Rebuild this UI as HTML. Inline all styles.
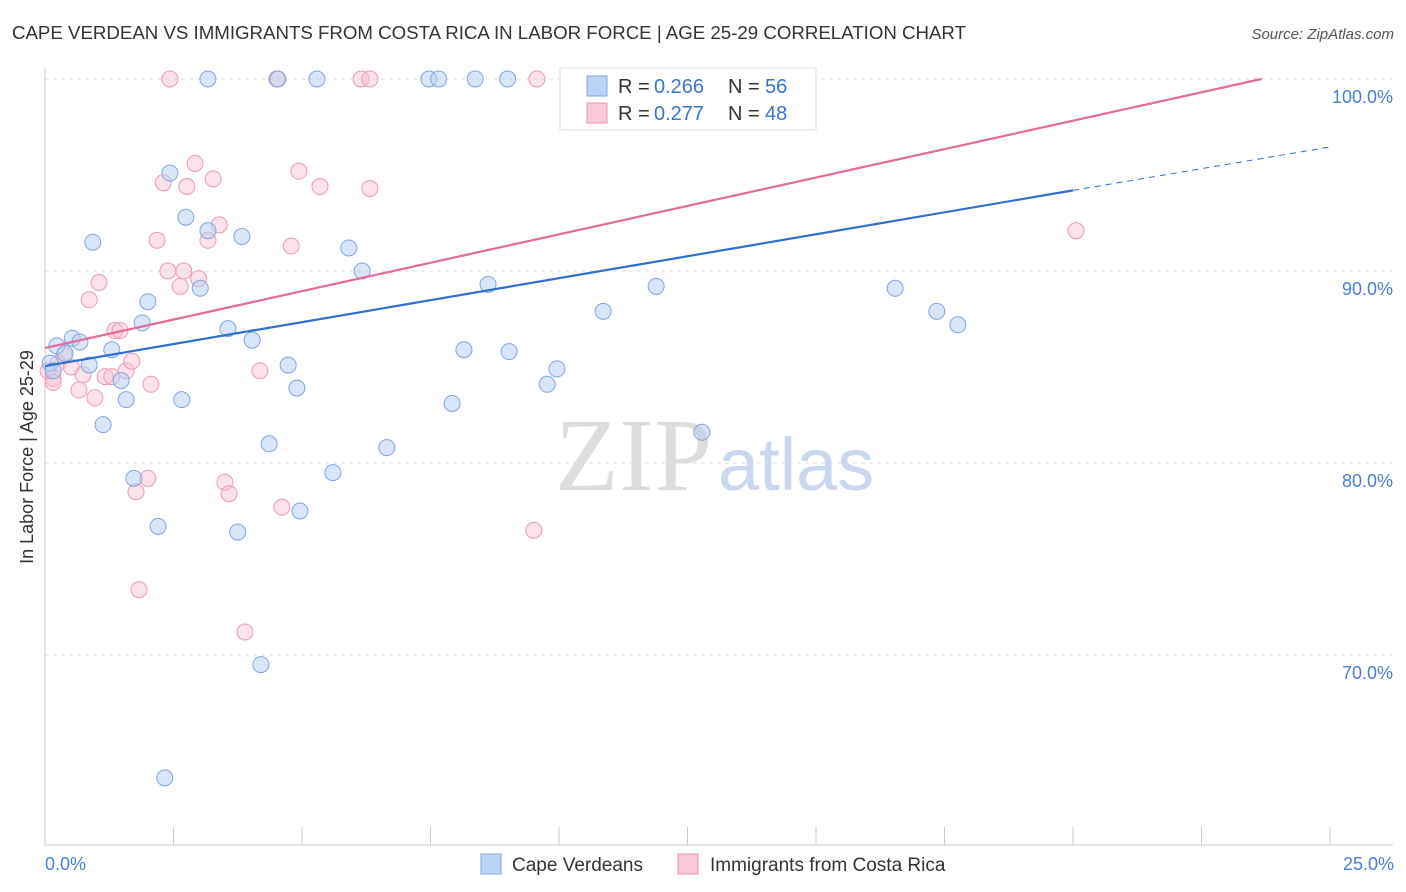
<!DOCTYPE html>
<html><head><meta charset="utf-8"><style>
body{margin:0;background:#fff;font-family:"Liberation Sans",sans-serif;}
svg{display:block}
</style></head><body>
<svg width="1406" height="892">
<text x="12" y="39" font-size="18.7" fill="#333" textLength="954">CAPE VERDEAN VS IMMIGRANTS FROM COSTA RICA IN LABOR FORCE | AGE 25-29 CORRELATION CHART</text>
<text x="1394" y="39" font-size="15" fill="#555" font-style="italic" text-anchor="end">Source: ZipAtlas.com</text>
<text x="555" y="490" font-size="104" fill="#ddd" textLength="157" font-family="Liberation Serif">ZIP</text>
<text x="718" y="490" font-size="74" fill="#c9d8ef">atlas</text>
<g id="grid"></g>
<line x1="45" y1="68" x2="45" y2="845" stroke="#ccc"/>
<line x1="45" y1="845" x2="1393" y2="845" stroke="#ccc"/>
<g id="xt"></g>
<text x="45" y="870" font-size="18" fill="#4a7fd6">0.0%</text>
<text x="1394" y="870" font-size="18" fill="#4a7fd6" text-anchor="end">25.0%</text>
<text transform="translate(33,457) rotate(-90)" font-size="18" fill="#333" text-anchor="middle">In Labor Force | Age 25-29</text>
<g id="pts"></g>
<g id="lines"></g>
<g>
<rect x="560" y="68" width="256" height="62" fill="#fff" stroke="#ddd"/>
<rect x="587" y="76" width="20" height="20" fill="#b9d2f5" stroke="#7fa6e0"/>
<text x="618" y="93" font-size="20" fill="#333">R =</text>
<text x="654" y="93" font-size="20" fill="#3a74d0">0.266</text>
<text x="728" y="93" font-size="20" fill="#333">N =</text>
<text x="765" y="93" font-size="20" fill="#3a74d0">56</text>
<rect x="587" y="103" width="20" height="20" fill="#f9c9d7" stroke="#eb95b0"/>
<text x="618" y="120" font-size="20" fill="#333">R =</text>
<text x="654" y="120" font-size="20" fill="#3a74d0">0.277</text>
<text x="728" y="120" font-size="20" fill="#333">N =</text>
<text x="765" y="120" font-size="20" fill="#3a74d0">48</text>
</g>
<g>
<rect x="481" y="854" width="20" height="20" fill="#b9d2f5" stroke="#7fa6e0"/>
<text x="512" y="871" font-size="19" fill="#333">Cape Verdeans</text>
<rect x="678" y="854" width="20" height="20" fill="#f9c9d7" stroke="#eb95b0"/>
<text x="710" y="871" font-size="19" fill="#333">Immigrants from Costa Rica</text>
</g>
</svg>
<script>
const yTicks=[100,90,80,70];
const xTicks=[0,2.5,5,7.5,10,12.5,15,17.5,20,22.5,25];
const blueX=[0.23,0.53,0.68,0.39,0.86,0.10,0.16,1.48,1.58,1.13,1.30,1.89,2.00,0.93,2.43,2.74,3.17,3.02,3.83,3.56,4.03,4.73,4.90,4.36,2.66,1.73,2.20,3.75,4.96,5.60,4.20,2.33,5.91,6.17,6.65,7.92,8.15,9.03,9.77,9.96,8.62,10.86,11.89,12.78,16.54,17.35,17.76,3.17,4.53,5.29,7.47,7.66,8.37,9.00,11.25,13.42];
const blueY=[86.1,86.5,86.3,85.7,85.1,85.2,84.8,84.3,83.3,82.0,85.9,87.3,88.4,91.5,95.1,92.8,92.1,89.1,91.8,87.0,86.4,85.1,83.9,81.0,83.3,79.2,76.7,76.4,77.5,79.5,69.5,63.6,91.2,90.0,80.8,83.1,85.9,85.8,84.1,84.9,89.3,87.9,89.2,81.6,89.1,87.9,87.2,100,100,100,100,100,100,100,100,100];
const pinkX=[2.43,4.51,6.15,6.32,9.57,2.92,2.30,2.76,3.27,4.94,5.35,6.32,3.39,3.17,2.18,4.79,2.39,2.70,2.99,2.63,1.05,0.86,1.36,1.46,0.37,0.25,0.06,0.16,0.51,0.74,1.17,1.58,1.69,1.30,0.66,0.97,2.06,4.18,3.50,3.58,2.00,1.77,4.61,1.83,3.89,9.51,20.06,0.16];
const pinkY=[100,100,100,100,100,95.6,94.6,94.4,94.8,95.2,94.4,94.3,92.4,91.6,91.6,91.3,90.0,90.0,89.6,89.2,89.4,88.5,86.9,86.9,85.6,85.2,84.8,84.4,85.0,84.6,84.5,84.8,85.3,84.5,83.8,83.4,84.1,84.8,79.0,78.4,79.2,78.5,77.7,73.4,71.2,76.5,92.1,84.2];
const blueFit=[[0,85.05],[20,94.2],[25,96.46]];
const pinkFit=[[0,85.99],[23.67,100]];
const NS='http://www.w3.org/2000/svg';
const X=v=>45+v*51.4, Y=v=>79+(100-v)*19.2;
function mk(t,a,p){const e=document.createElementNS(NS,t);for(const k in a)e.setAttribute(k,a[k]);p.appendChild(e);return e;}
const grid=document.getElementById('grid');
yTicks.forEach(t=>{
 const l=mk('line',{x1:45,x2:1393,y1:Y(t),y2:Y(t),stroke:'#ddd','stroke-dasharray':'4,4'},grid);
 
 
 const tx=mk('text',{x:1393,y:Y(t)+24,'font-size':18,fill:'#4a7fd6','text-anchor':'end'},grid);
 tx.textContent=t.toFixed(1)+'%';
 
 
});
const xt=document.getElementById('xt');
xTicks.forEach(t=>{
 const l=mk('line',{x1:X(t),x2:X(t),y1:827,y2:845,stroke:'#ccc'},xt);
 
 
});
const pts=document.getElementById('pts');
pinkX.forEach((x,i)=>{
 const c=mk('circle',{cx:X(x),cy:Y(pinkY[i]),r:8,fill:'rgba(248,190,208,0.45)',stroke:'#eb9ab5','stroke-width':1},pts);
 
 
});
blueX.forEach((x,i)=>{
 const c=mk('circle',{cx:X(x),cy:Y(blueY[i]),r:8,fill:'rgba(180,205,242,0.5)',stroke:'#7fa6e0','stroke-width':1},pts);
 
 
});
const lines=document.getElementById('lines');
let b1=mk('line',{x1:X(blueFit[0][0]),y1:Y(blueFit[0][1]),x2:X(blueFit[1][0]),y2:Y(blueFit[1][1]),stroke:'#2f6fd0','stroke-width':2.2},lines);


let b2=mk('line',{x1:X(blueFit[1][0]),y1:Y(blueFit[1][1]),x2:X(blueFit[2][0]),y2:Y(blueFit[2][1]),stroke:'#2f6fd0','stroke-width':1,'stroke-dasharray':'6,5'},lines);


let p1=mk('line',{x1:X(pinkFit[0][0]),y1:Y(pinkFit[0][1]),x2:X(pinkFit[1][0]),y2:Y(pinkFit[1][1]),stroke:'#e66b96','stroke-width':2.2},lines);


</script>
</body></html>
